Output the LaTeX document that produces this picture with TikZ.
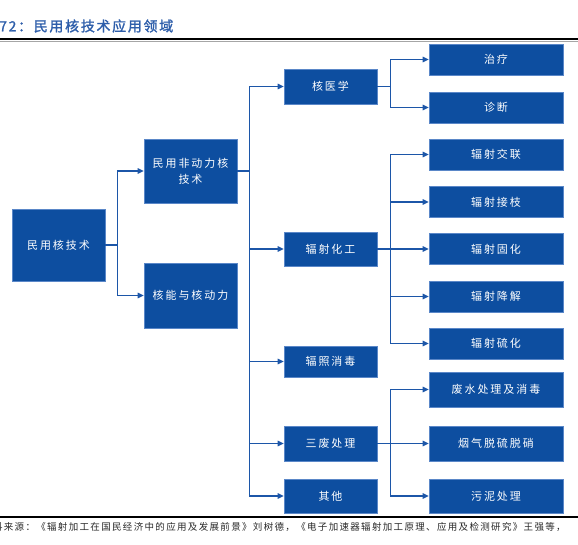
\documentclass[tikz,border=0pt]{standalone}
\usepackage{fontspec}
\newfontfamily\cjk{Noto Sans CJK SC}[LetterSpace=18]
\newfontfamily\cjktitle{Noto Sans CJK SC}[LetterSpace=12,FakeBold=1.6]
\newfontfamily\cjksrc{Noto Sans CJK SC}[LetterSpace=14]
\usetikzlibrary{positioning,arrows.meta,calc}
\definecolor{boxblue}{RGB}{13,78,160}
\definecolor{boxedge}{RGB}{90,135,200}
\definecolor{linkblue}{RGB}{28,86,168}
\definecolor{titleblue}{RGB}{46,94,170}
\definecolor{srcgray}{RGB}{40,40,40}
\tikzset{
  figbox/.style={draw=boxedge, line width=0.6pt, fill=boxblue, text=white, align=center,
    font=\cjk\fontsize{11}{16}\selectfont, inner sep=0pt},
  midbox/.style={figbox, minimum width=93pt},
  leafbox/.style={figbox, minimum width=134pt, minimum height=31pt},
  figarrow/.style={draw=linkblue, line width=1.2pt,
    -{Triangle[length=6pt,width=5.5pt]}},
}
\begin{document}
\begin{tikzpicture}[x=1pt, y=-1pt]
  \useasboundingbox (0,0) rectangle (578,545);
  \clip (0,0) rectangle (578,545);
  % title and rules
  \node[anchor=west, text=titleblue, font=\cjktitle\fontsize{14}{16}\selectfont, inner sep=0pt]
    (title) at (-1,26) {72：民用核技术应用领域};
  \draw[black, line width=1.4pt] (0,39) -- (578,39);
  \draw[black!35, line width=0.7pt] (0,41) -- (578,41);
  \draw[black, line width=1.6pt] (0,517) -- (578,517);
  \node[anchor=west, text=srcgray, font=\cjksrc\fontsize{9.5}{11}\selectfont, inner sep=0pt]
    (src) at (-18,527) {资料来源：《辐射加工在国民经济中的应用及发展前景》刘树德，《电子加速器辐射加工原理、应用及检测研究》王强等，};

  % level 1 and 2
  \node[midbox, minimum height=72pt] (root) at (58.5,245) {民用核技术};
  \node[midbox, minimum height=64pt] (civil) at (190.5,171) {民用非动力核\\技术};
  \node[midbox, minimum height=65pt] (power) at (190.5,295.5) {核能与核动力};

  % level 3
  \node[midbox, minimum height=35pt] (med) at (330.5,86.5) {核医学};
  \node[midbox, minimum height=34pt] (chem) at (330.5,249) {辐射化工};
  \node[midbox, minimum height=31pt] (steril) at (330.5,361.5) {辐照消毒};
  \node[midbox, minimum height=35pt] (waste) at (330.5,443.5) {三废处理};
  \node[midbox, minimum height=34pt] (other) at (330.5,496) {其他};

  % level 4
  \node[leafbox] (treat) at (496,59.5) {治疗};
  \node[leafbox] (diag) at (496,107.5) {诊断};
  \node[leafbox] (xlink) at (496,154.5) {辐射交联};
  \node[leafbox] (graft) at (496,202) {辐射接枝};
  \node[leafbox] (cure) at (496,249) {辐射固化};
  \node[leafbox] (degrade) at (496,296.5) {辐射降解};
  \node[leafbox] (vulcan) at (496,343.5) {辐射硫化};
  \node[leafbox, minimum height=35pt] (water) at (496,389.5) {废水处理及消毒};
  \node[leafbox, minimum height=35pt] (flue) at (496,443.5) {烟气脱硫脱硝};
  \node[leafbox, minimum height=34pt] (sludge) at (496,496) {污泥处理};

  % connectors
  \foreach \child in {civil,power}
    \draw[figarrow] (root.east) -- ++(12,0) |- (\child.west);
  \foreach \child in {med,chem,steril,waste,other}
    \draw[figarrow] (civil.east) -- ++(12,0) |- (\child.west);
  \foreach \child in {treat,diag}
    \draw[figarrow] (med.east) -- ++(13,0) |- (\child.west);
  \foreach \child in {xlink,graft,cure,degrade,vulcan}
    \draw[figarrow] (chem.east) -- ++(13,0) |- (\child.west);
  \foreach \child in {water,flue,sludge}
    \draw[figarrow] (waste.east) -- ++(13,0) |- (\child.west);
\end{tikzpicture}
\end{document}
